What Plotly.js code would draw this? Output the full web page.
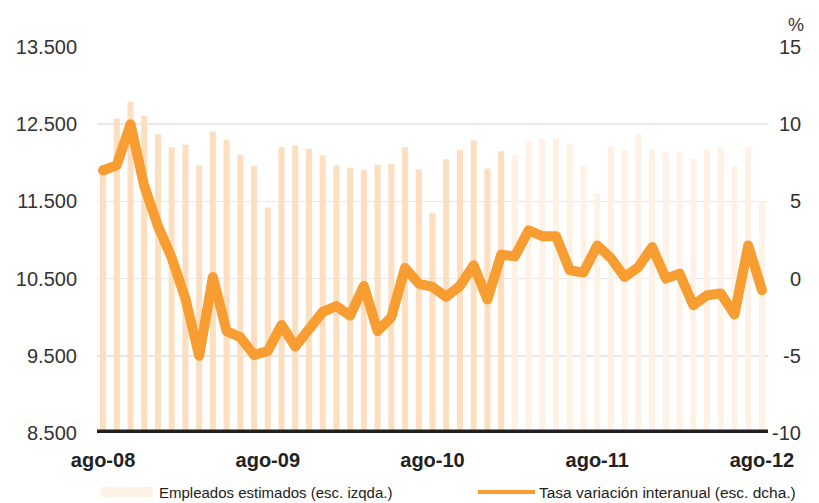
<!DOCTYPE html>
<html>
<head>
<meta charset="utf-8">
<script src="https://cdn.plot.ly/plotly-3.0.1.min.js"></script>
<style>
html,body{margin:0;padding:0;background:#fff;}
#chart{width:819px;height:503px;}
.scatterlayer path.js-line{stroke-linejoin:round !important;stroke-linecap:round !important;}
</style>
</head>
<body>
<div id="chart"></div>
<script>
// Months (ago-08 .. ago-12)
const months = [
  "ago-08","sep-08","oct-08","nov-08","dic-08",
  "ene-09","feb-09","mar-09","abr-09","may-09","jun-09","jul-09","ago-09","sep-09","oct-09","nov-09","dic-09",
  "ene-10","feb-10","mar-10","abr-10","may-10","jun-10","jul-10","ago-10","sep-10","oct-10","nov-10","dic-10",
  "ene-11","feb-11","mar-11","abr-11","may-11","jun-11","jul-11","ago-11","sep-11","oct-11","nov-11","dic-11",
  "ene-12","feb-12","mar-12","abr-12","may-12","jun-12","jul-12","ago-12"
];
// Empleados estimados (left axis)
const empleados = [
  11970,12570,12790,12610,12370,12200,12235,11965,12405,12300,12105,11960,11420,12200,12220,12180,12095,
  11965,11935,11910,11975,11985,12200,11915,11350,12045,12165,12290,11925,12150,
  12100,12275,12310,12315,12250,11955,11600,12210,12170,12370,12180,12135,12145,12045,12170,12200,11955,12200,11505
];
// Tasa variación interanual (right axis, %)
const tasa = [
  7.0,7.35,10.0,6.0,3.4,1.35,-1.3,-5.0,0.1,-3.4,-3.8,-4.95,-4.7,-3.0,-4.4,-3.2,-2.15,
  -1.78,-2.4,-0.47,-3.4,-2.5,0.69,-0.32,-0.54,-1.18,-0.47,0.86,-1.35,1.55,
  1.44,3.12,2.75,2.75,0.54,0.39,2.15,1.33,0.1,0.75,2.04,0.0,0.32,-1.72,-1.08,-0.97,-2.32,2.15,-0.75
];
// Number of months drawn with the stronger bar colour (rest lighter)
const nDark = 30;

const leftTicks = [8500, 9500, 10500, 11500, 12500, 13500];
const leftTickText = ["8.500","9.500","10.500","11.500","12.500","13.500"];
const rightTicks = [-10, -5, 0, 5, 10, 15];
const xTickVals = ["ago-08","ago-09","ago-10","ago-11","ago-12"];

const FONT = "Liberation Sans, Arial, sans-serif";
const barColors = months.map((m, i) => i < nDark ? "#FCDFC1" : "#FEF1E5");

const traces = [
  {
    type: "bar", x: months, y: empleados, yaxis: "y",
    marker: {color: barColors, line: {width: 0}},
    showlegend: false, hoverinfo: "skip"
  },
  {
    type: "scatter", mode: "lines", x: months, y: tasa, yaxis: "y2",
    line: {color: "#F89D31", width: 10},
    showlegend: false, hoverinfo: "skip"
  }
];

const annotations = rightTicks.map(v => ({
  xref: "paper", yref: "y2", x: 1, y: v, xanchor: "right", yanchor: "middle",
  xshift: 35, showarrow: false, text: String(v),
  font: {family: FONT, size: 20, color: "#333"}
}));
annotations.push({
  xref: "paper", yref: "paper", x: 1, y: 1, xanchor: "right", yanchor: "bottom",
  xshift: 38, yshift: 10, showarrow: false, text: "%",
  font: {family: FONT, size: 18, color: "#333"}
});
annotations.push({
  xref: "paper", yref: "paper", x: 0, y: 0, xanchor: "left", yanchor: "middle",
  xshift: 60, yshift: -59, showarrow: false, text: "Empleados estimados (esc. izqda.)",
  font: {family: FONT, size: 15, color: "#222"}
});
annotations.push({
  xref: "paper", yref: "paper", x: 0, y: 0, xanchor: "left", yanchor: "middle",
  xshift: 440, yshift: -59, showarrow: false, text: "Tasa variación interanual (esc. dcha.)",
  font: {family: FONT, size: 15.5, color: "#222"}
});

const layout = {
  width: 819, height: 503,
  margin: {l: 97, r: 51, t: 47, b: 70},
  paper_bgcolor: "#fff", plot_bgcolor: "#fff",
  bargap: 0.56,
  xaxis: {
    type: "category", range: [-0.44, 48.44],
    tickmode: "array", tickvals: xTickVals, ticktext: xTickVals,
    ticks: "", showgrid: false, zeroline: false, showline: false,
    ticklabelstandoff: 13,
    tickfont: {family: FONT, size: 20, color: "#222", weight: "bold"}
  },
  yaxis: {
    range: [8500, 13500], tickmode: "array", tickvals: leftTicks, ticktext: leftTickText,
    showgrid: true, gridcolor: "#E8E8E8", gridwidth: 1.5, zeroline: false, showline: false,
    ticks: "", ticklabelstandoff: 19,
    tickfont: {family: FONT, size: 20, color: "#333"}
  },
  yaxis2: {
    range: [-10, 15], overlaying: "y", side: "right",
    showgrid: false, zeroline: false, showticklabels: false, showline: false
  },
  shapes: [
    {type: "line", xref: "paper", yref: "y", x0: 0, x1: 1, y0: 8500, y1: 8500,
     line: {color: "#231F20", width: 7}},
    {type: "rect", xref: "paper", yref: "paper",
     xsizemode: "pixel", ysizemode: "pixel", xanchor: 0, yanchor: 0,
     x0: 4, x1: 56, y0: -54, y1: -64, fillcolor: "#FEF1E5", line: {width: 0}},
    {type: "line", xref: "paper", yref: "paper",
     xsizemode: "pixel", ysizemode: "pixel", xanchor: 0, yanchor: 0,
     x0: 381, x1: 438, y0: -59, y1: -59, line: {color: "#F89D31", width: 4}}
  ],
  annotations: annotations
};

Plotly.newPlot("chart", traces, layout, {staticPlot: true, displayModeBar: false});
</script>
</body>
</html>
